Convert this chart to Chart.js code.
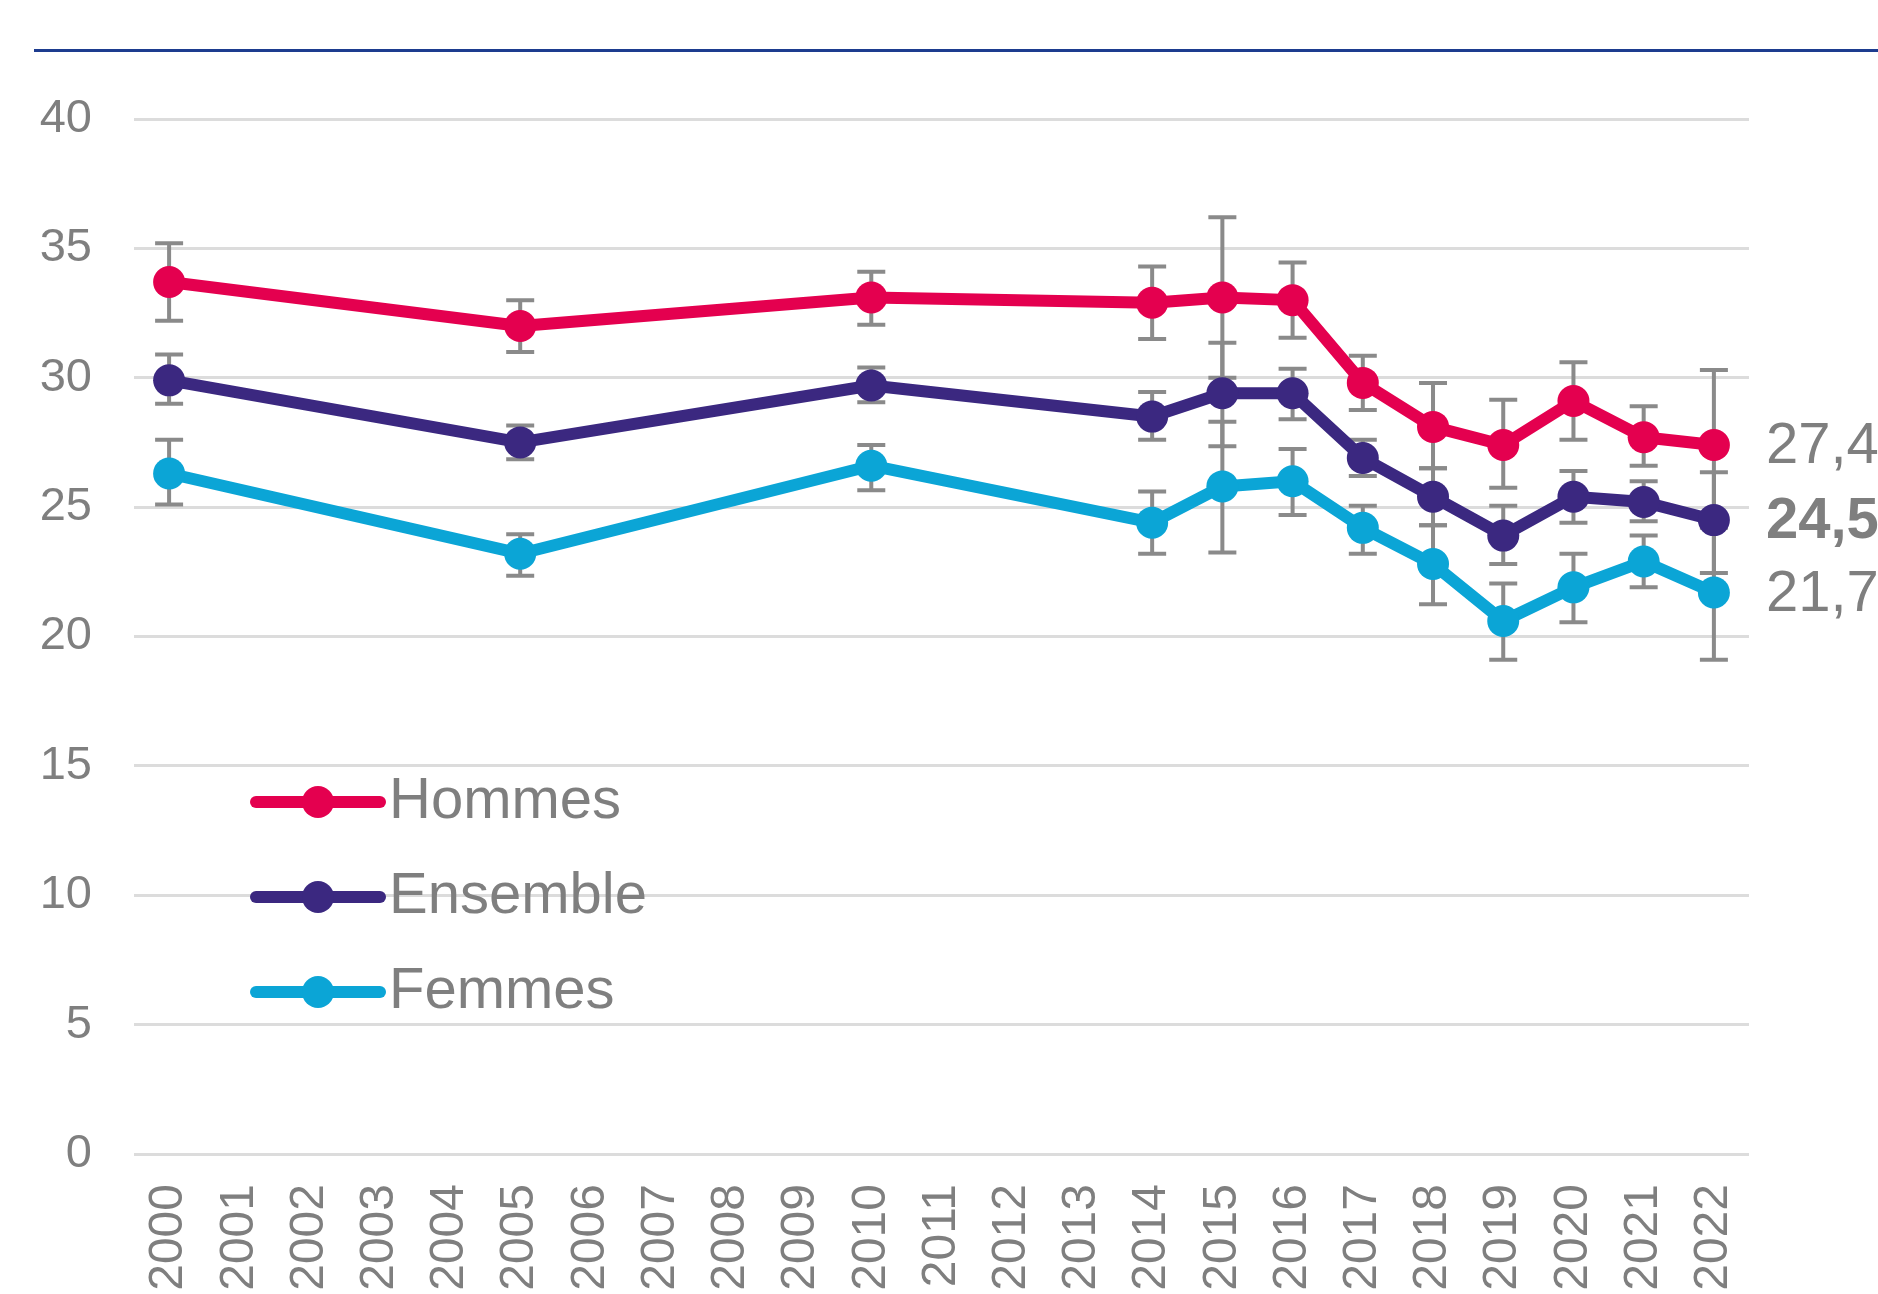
<!DOCTYPE html>
<html>
<head>
<meta charset="utf-8">
<script src="https://cdn.jsdelivr.net/npm/chart.js@4"></script>
<style>
  body { margin: 0; background: #fff; }
  #wrap { position: relative; width: 1878px; height: 1294px; overflow: hidden; }
  #topline { position: absolute; left: 34px; right: 0; top: 49px; height: 3px; background: #1d3c8f; }
</style>
</head>
<body>
<div id="wrap">
  <div id="topline"></div>
  <canvas id="myChart" width="1878" height="1294"></canvas>
</div>
<script>
// years on the x axis
const years = [];
for (let y = 2000; y <= 2022; y++) years.push(String(y));

const yTicks = [0, 5, 10, 15, 20, 25, 30, 35, 40];

// series (null = no survey that year)
const hommes = [33.7, null, null, null, null, 32.0, null, null, null, null, 33.1, null, null, null, 32.9, 33.1, 33.0, 29.8, 28.1, 27.4, 29.1, 27.7, 27.4];
const hommesLow = [32.2, null, null, null, null, 31.0, null, null, null, null, 32.05, null, null, null, 31.5, 30.0, 31.55, 28.75, 26.5, 25.75, 27.6, 26.6, 24.5];
const hommesHigh = [35.2, null, null, null, null, 33.0, null, null, null, null, 34.1, null, null, null, 34.3, 36.2, 34.45, 30.85, 29.8, 29.15, 30.6, 28.9, 30.3];

const ensemble = [29.9, null, null, null, null, 27.5, null, null, null, null, 29.7, null, null, null, 28.5, 29.4, 29.4, 26.9, 25.4, 23.9, 25.4, 25.2, 24.5];
const ensembleLow = [29.0, null, null, null, null, 26.85, null, null, null, null, 29.05, null, null, null, 27.6, 27.35, 28.4, 26.2, 24.3, 22.8, 24.4, 24.45, 22.45];
const ensembleHigh = [30.9, null, null, null, null, 28.15, null, null, null, null, 30.4, null, null, null, 29.45, 31.35, 30.35, 27.6, 26.5, 25.05, 26.4, 26.0, 26.35];

const femmes = [26.3, null, null, null, null, 23.2, null, null, null, null, 26.6, null, null, null, 24.4, 25.8, 26.0, 24.2, 22.8, 20.6, 21.9, 22.9, 21.7];
const femmesLow = [25.1, null, null, null, null, 22.35, null, null, null, null, 25.65, null, null, null, 23.2, 23.25, 24.7, 23.2, 21.25, 19.1, 20.55, 21.9, 19.1];
const femmesHigh = [27.6, null, null, null, null, 23.95, null, null, null, null, 27.4, null, null, null, 25.6, 28.3, 27.25, 25.05, 24.3, 22.05, 23.2, 23.9, 24.2];

const seriesNames = ["Hommes", "Ensemble", "Femmes"];
const seriesColors = ["#e4004f", "#3b2880", "#0ba5d6"];

const grey = "#7f7f7f";
const font = "'Liberation Sans', Arial, sans-serif";

function makeSet(i, data, low, high, bold) {
  return {
    label: seriesNames[i],
    data: data,
    errLow: low,
    errHigh: high,
    boldLabel: bold,
    borderColor: seriesColors[i],
    backgroundColor: seriesColors[i],
    pointBackgroundColor: seriesColors[i],
    pointBorderWidth: 0,
    pointRadius: 16,
    borderWidth: 12,
    borderJoinStyle: "round",
    borderCapStyle: "round",
    tension: 0,
    spanGaps: true,
    clip: false,
  };
}

// error bars, behind the lines
const errorBars = {
  id: "errorBars",
  beforeDatasetsDraw(chart) {
    const ctx = chart.ctx;
    const xs = chart.scales.x, ys = chart.scales.y;
    ctx.save();
    ctx.strokeStyle = "#8a8a8a";
    ctx.lineWidth = 4;
    chart.data.datasets.forEach((ds) => {
      ds.data.forEach((v, i) => {
        if (v === null) return;
        const x = xs.getPixelForValue(i);
        const yl = ys.getPixelForValue(ds.errLow[i]);
        const yh = ys.getPixelForValue(ds.errHigh[i]);
        ctx.beginPath();
        ctx.moveTo(x, yl); ctx.lineTo(x, yh);
        ctx.moveTo(x - 14, yl); ctx.lineTo(x + 14, yl);
        ctx.moveTo(x - 14, yh); ctx.lineTo(x + 14, yh);
        ctx.stroke();
      });
    });
    ctx.restore();
  },
};

// value labels at the end of each line + legend inside the plot
const extras = {
  id: "extras",
  afterDraw(chart) {
    const ctx = chart.ctx;
    const area = chart.chartArea;
    ctx.save();
    ctx.textBaseline = "middle";
    ctx.fillStyle = grey;
    chart.data.datasets.forEach((ds, k) => {
      const meta = chart.getDatasetMeta(k);
      const last = ds.data.length - 1;
      const pt = meta.data[last];
      ctx.font = (ds.boldLabel ? "bold " : "") + "58px " + font;
      ctx.fillStyle = grey;
      ctx.textAlign = "left";
      ctx.fillText(ds.data[last].toFixed(1).replace(".", ","), pt.x + 52, pt.y + 2);

      // legend row
      const ly = area.top + 683 + k * 95;
      const lx = area.left + 122;
      ctx.strokeStyle = seriesColors[k];
      ctx.lineWidth = 12;
      ctx.lineCap = "round";
      ctx.beginPath();
      ctx.moveTo(lx, ly); ctx.lineTo(lx + 124, ly);
      ctx.stroke();
      ctx.fillStyle = seriesColors[k];
      ctx.beginPath();
      ctx.arc(lx + 62, ly, 16, 0, Math.PI * 2);
      ctx.fill();
      ctx.fillStyle = grey;
      ctx.font = "58px " + font;
      ctx.fillText(ds.label, lx + 133, ly);
    });
    ctx.restore();
  },
};

const ctx = document.getElementById("myChart").getContext("2d");
const myChart = new Chart(ctx, {
  type: "line",
  data: {
    labels: years,
    datasets: [
      makeSet(0, hommes, hommesLow, hommesHigh, false),
      makeSet(1, ensemble, ensembleLow, ensembleHigh, true),
      makeSet(2, femmes, femmesLow, femmesHigh, false),
    ],
  },
  options: {
    responsive: false,
    animation: false,
    devicePixelRatio: 1,
    layout: { padding: { top: 119, right: 129, bottom: 0, left: 0 } },
    plugins: {
      legend: { display: false },
      tooltip: { enabled: false },
    },
    scales: {
      x: {
        offset: true,
        grid: { display: false, drawTicks: false },
        border: { display: false },
        ticks: {
          color: grey,
          font: { family: font, size: 48 },
          minRotation: 90,
          maxRotation: 90,
          padding: 30,
          autoSkip: false,
        },
        afterFit(scale) { scale.height = 140; },
      },
      y: {
        min: 0,
        max: 40,
        afterBuildTicks(scale) { scale.ticks = yTicks.map((v) => ({ value: v })); },
        grid: { color: "#dcdcdc", lineWidth: 3, drawTicks: false },
        border: { display: false },
        ticks: {
          color: grey,
          font: { family: font, size: 47 },
          padding: 42,
        },
        afterFit(scale) { scale.width = 134; },
      },
    },
  },
  plugins: [errorBars, extras],
});
</script>
</body>
</html>
